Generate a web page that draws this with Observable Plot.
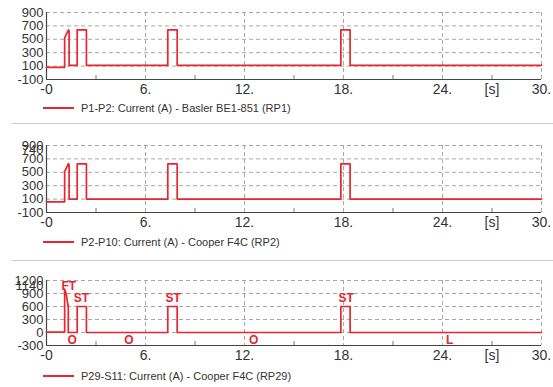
<!DOCTYPE html>
<html><head><meta charset="utf-8">
<script src="https://cdn.jsdelivr.net/npm/d3@7"></script>
<script src="https://cdn.jsdelivr.net/npm/@observablehq/plot@0.6"></script>
<style>
body{margin:0;background:#fff;font-family:"Liberation Sans",Arial,sans-serif;}
#c{position:relative;width:553px;height:387px;overflow:hidden;background:#fff;}
.panel{position:absolute;left:0;}
.legend{position:absolute;left:43px;height:14px;font-size:11px;color:#333;display:flex;align-items:center;white-space:nowrap;}
.legend .sw{width:31px;height:0;border-top:2px solid #e8262f;margin-right:7px;}
.sep{position:absolute;left:12px;width:541px;height:0;border-top:1.5px solid #c9c9c9;}
</style></head><body><div id="c"></div>
<script>
// ---- data ----
const xTicks = [0, 6, 12, 18, 24, 27, 30];
const xTickLabels = ["-0", "6.", "12.", "18.", "24.", "[s]", "30."];
const xGrid = [6, 12, 18, 24, 30];
const xMinor = [3, 9, 15, 21, 27];

const legendP1 = "P1-P2: Current (A) - Basler BE1-851 (RP1)";
const legendP2 = "P2-P10: Current (A) - Cooper F4C (RP2)";
const legendP3 = "P29-S11: Current (A) - Cooper F4C (RP29)";

const timeP1 = [0, 1.1, 1.1, 1.33, 1.37, 1.37, 1.86, 1.86, 2.42, 2.42, 7.35, 7.35, 7.92, 7.92, 17.84, 17.84, 18.4, 18.4, 30];
const currentP1 = [80, 80, 520, 640, 625, 110, 110, 640, 640, 110, 110, 640, 640, 110, 110, 640, 640, 110, 110];
const yTicksP1 = [-100, 100, 300, 500, 700, 900];
const yLabelsP1 = ["-100", "100", "300", "500", "700", "900"];

const timeP2 = [0, 1.1, 1.1, 1.33, 1.37, 1.37, 1.86, 1.86, 2.42, 2.42, 7.35, 7.35, 7.92, 7.92, 17.84, 17.84, 18.4, 18.4, 30];
const currentP2 = [60, 60, 510, 630, 615, 100, 100, 625, 625, 100, 100, 625, 625, 100, 100, 625, 625, 100, 100];
const yTicksP2 = [-100, 100, 300, 500, 700, 830, 900];
const yLabelsP2 = ["-100", "100", "300", "500", "700", "740", "900"];

const timeP3 = [0, 1.1, 1.1, 1.2, 1.3, 1.32, 1.32, 1.86, 1.86, 2.42, 2.42, 7.35, 7.35, 7.92, 7.92, 17.84, 17.84, 18.4, 18.4, 30];
const currentP3 = [10, 10, 1000, 880, 640, 600, 0, 0, 600, 600, 0, 0, 600, 600, 0, 0, 600, 600, 0, 0];
const yTicksP3 = [-300, 0, 300, 600, 900, 1080, 1200];
const yLabelsP3 = ["-300", "0", "300", "600", "900", "1140", "1200"];
const eventLabels = ["FT", "ST", "ST", "ST", "O", "O", "O", "L"];
const eventTimes = [1.35, 2.12, 7.68, 18.16, 1.56, 5.0, 12.56, 24.44];
const eventValues = [1080, 790, 790, 790, -170, -170, -170, -170];

const RED = "#e8262f";

function makePanel({time, current, yTicks, yLabels, gridTicks, domain, marginTop, plotH, events}) {
  const series = time.map((t, i) => ({t, v: current[i]}));
  const fmt = new Map(yTicks.map((t, i) => [t, yLabels[i]]));
  const xfmt = new Map(xTicks.map((t, i) => [t, xTickLabels[i]]));
  const marks = [
    Plot.gridY(gridTicks, {stroke: "#a8a8a8", strokeOpacity: 1, strokeDasharray: "4,3"}),
    Plot.gridX(xGrid, {stroke: "#a8a8a8", strokeOpacity: 1, strokeDasharray: "4,3"}),
    Plot.axisY(yTicks, {tickSize: 0, tickPadding: 3, tickFormat: d => fmt.get(d), label: null, fontSize: 13, fill: "#333"}),
    Plot.axisX(xTicks, {tickSize: 0, tickPadding: 5, tickFormat: d => xfmt.get(d), label: null, fontSize: 14, fill: "#333"}),
    Plot.tickX(xMinor, {x: d => d, stroke: "#777", insetTop: plotH - 4}),
    Plot.ruleX([0], {stroke: "#444", strokeWidth: 1.2}),
    Plot.ruleY([domain[0]], {stroke: "#444", strokeWidth: 1.2}),
    Plot.line(series, {x: "t", y: "v", stroke: RED, strokeWidth: 1.7, curve: "linear"})
  ];
  if (events) {
    marks.push(Plot.text(events, {x: "t", y: "v", text: "s", fill: RED, fontWeight: "bold", fontSize: 12}));
  }
  return Plot.plot({
    width: 553, height: marginTop + plotH + 22,
    marginLeft: 46, marginRight: 12, marginTop, marginBottom: 22,
    x: {domain: [0, 30]}, y: {domain},
    style: {fontFamily: "Liberation Sans, Arial, sans-serif", fontSize: "14px", color: "#333", background: "transparent", overflow: "visible"},
    marks
  });
}

const c = document.getElementById("c");
function place(el, top) { el.classList.add("panel"); el.style.top = top + "px"; c.appendChild(el); }
function legend(text, top) {
  const d = document.createElement("div"); d.className = "legend"; d.style.top = (top - 7) + "px";
  d.innerHTML = '<span class="sw"></span>'; const s = document.createElement("span"); s.textContent = text; d.appendChild(s);
  c.appendChild(d);
}
function sep(top) { const d = document.createElement("div"); d.className = "sep"; d.style.top = top + "px"; c.appendChild(d); }

place(makePanel({time: timeP1, current: currentP1, yTicks: yTicksP1, yLabels: yLabelsP1, gridTicks: [100, 300, 500, 700, 900], domain: [-100, 900], marginTop: 12, plotH: 67}), 0);
legend(legendP1, 108);
sep(123);
place(makePanel({time: timeP2, current: currentP2, yTicks: yTicksP2, yLabels: yLabelsP2, gridTicks: [100, 300, 500, 700, 900], domain: [-100, 900], marginTop: 20, plotH: 67}), 125);
legend(legendP2, 242);
sep(260);
const ev = eventLabels.map((s, i) => ({s, t: eventTimes[i], v: eventValues[i]}));
place(makePanel({time: timeP3, current: currentP3, yTicks: yTicksP3, yLabels: yLabelsP3, gridTicks: [0, 300, 600, 900, 1200], domain: [-300, 1200], marginTop: 18, plotH: 65, events: ev}), 262);
legend(legendP3, 376);
</script></body></html>
